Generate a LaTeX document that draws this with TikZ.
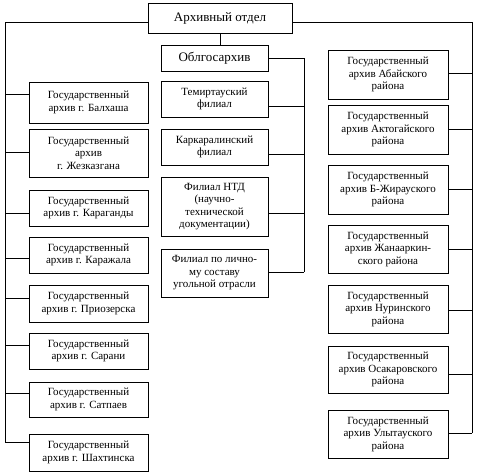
\documentclass[tikz,border=0pt]{standalone}
\usepackage{fontspec}
\setmainfont{Liberation Serif}
\usetikzlibrary{positioning}

\begin{document}
\begin{tikzpicture}[x=1pt,y=-1pt,
    box/.style={draw,line width=0.8pt,inner sep=0pt,align=center,
        font=\fontsize{11}{12.5}\selectfont},
    bigbox/.style={box,font=\fontsize{13}{15}\selectfont},
    link/.style={line width=0.8pt}]
\useasboundingbox (0,0) rectangle (477,475);

% Head box
\node[bigbox,minimum width=144,minimum height=30] (otdel) at (220,18) {Архивный отдел};

% Left column: city archives
\foreach \n/\y/\h/\yc/\txt in {
    bal/102.5/41/94/{Государственный\\архив г. Балхаша},
    zhez/153/48/152/{Государственный\\архив\\г. Жезказгана},
    karag/208/36/213/{Государственный\\архив г. Караганды},
    karazh/255/36/258/{Государственный\\архив г. Каражала},
    prioz/303.5/37/298/{Государственный\\архив г. Приозерска},
    saran/351/36/345/{Государственный\\архив г. Сарани},
    satp/399.5/35/393/{Государственный\\архив г. Сатпаев},
    shakh/452.5/37/442/{Государственный\\архив г. Шахтинска}}
{
    \node[box,minimum width=119,minimum height=\h] (\n) at (88.5,\y) {\txt};
    \coordinate (\n-c) at (5,\yc);
    \draw[link] (\n-c) -- (\n-c -| \n.west);
}

% Middle column: regional archive and branches
\node[bigbox,minimum width=107,minimum height=26] (oblg) at (214.5,58) {Облгосархив};
\coordinate (oblg-c) at (304,58);
\foreach \n/\y/\h/\yc/\txt in {
    temir/99/36/106/{Темиртауский\\филиал},
    karkar/147/36/154/{Каркаралинский\\филиал},
    ntd/206.5/59/213/{Филиал НТД\\(научно-\\технической\\документации)},
    lich/273/48/272/{Филиал по лично-\\му составу\\угольной отрасли}}
{
    \node[box,minimum width=107,minimum height=\h] (\n) at (214.5,\y) {\txt};
    \coordinate (\n-c) at (304,\yc);
    \draw[link] (\n-c) -- (\n-c -| \n.east);
}

% Right column: district archives
\foreach \n/\y/\h/\yc/\txt in {
    abai/74.5/49/73/{Государственный\\архив Абайского\\района},
    aktog/129.5/49/129/{Государственный\\архив Актогайского\\района},
    bzhir/189.5/49/189/{Государственный\\архив Б-Жирауского\\района},
    zhana/249/48/249/{Государственный\\архив Жанааркин-\\ского района},
    nura/309/48/310/{Государственный\\архив Нуринского\\района},
    osak/369.5/47/374/{Государственный\\архив Осакаровского\\района},
    ulyt/434/48/433/{Государственный\\архив Улытауского\\района}}
{
    \node[box,minimum width=120,minimum height=\h] (\n) at (388,\y) {\txt};
    \coordinate (\n-c) at (472,\yc);
    \draw[link] (\n-c) -- (\n-c -| \n.east);
}

% Buses
\coordinate (lt) at (5,22);
\coordinate (rt) at (472,22);
\draw[link] (otdel.west |- lt) -- (lt) -- (shakh-c);
\draw[link] (otdel.east |- rt) -- (rt) -- (ulyt-c);
\draw[link] (otdel.south) -- (otdel.south |- oblg.north);
\draw[link] (oblg.east) -- (oblg-c) -- (lich-c);
\end{tikzpicture}
\end{document}
